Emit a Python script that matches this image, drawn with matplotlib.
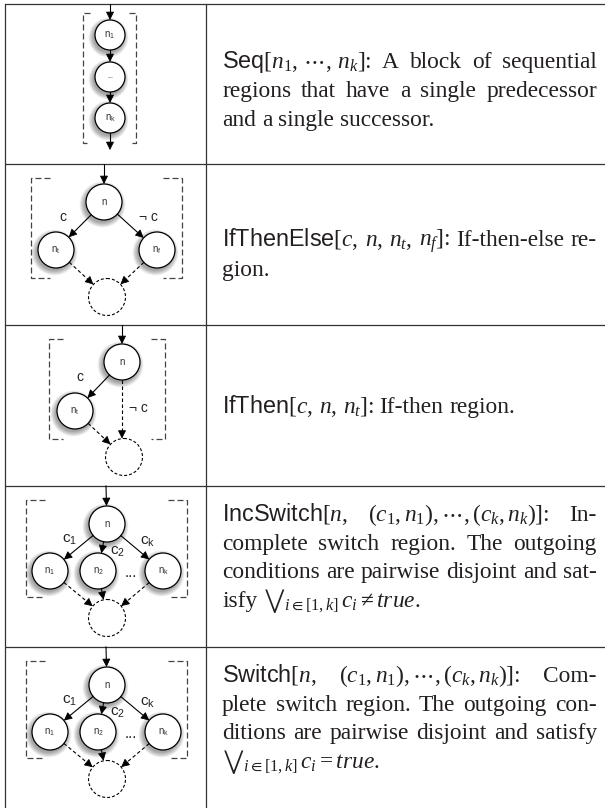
import matplotlib
matplotlib.use("Agg")
import matplotlib.pyplot as plt
from matplotlib.patches import Circle, FancyArrowPatch
import numpy as np

plt.rcParams['mathtext.fontset'] = 'custom'
plt.rcParams['mathtext.rm'] = 'Liberation Serif'
plt.rcParams['mathtext.it'] = 'Liberation Serif:italic'
plt.rcParams['mathtext.sf'] = 'Liberation Sans'
plt.rcParams['mathtext.fallback'] = 'stix'

# right column: one list of (already broken) lines per table row
seq_text = [r"$\mathsf{Seq}[n_1,\,\cdots,\,n_k]$: A block of sequential",
            "regions that have a single predecessor",
            "and a single successor."]
ite_text = [r"$\mathsf{IfThenElse}[c,$ $n,$ $n_t,$ $n_f]$: If-then-else re-",
            "gion."]
it_text = [r"$\mathsf{IfThen}[c,$ $n,$ $n_t]$: If-then region."]
inc_text = [r"$\mathsf{IncSwitch}[n,$ $(c_1,n_1),\cdots,(c_k,n_k)]$: In-",
            "complete switch region. The outgoing",
            "conditions are pairwise disjoint and sat-",
            r"isfy ${\bigvee}_{i\in[1,k]}\,c_i\neq\mathit{true}$."]
sw_text = [r"$\mathsf{Switch}[n,$ $(c_1,n_1),\cdots,(c_k,n_k)]$: Com-",
           "plete switch region. The outgoing con-",
           "ditions are pairwise disjoint and satisfy",
           r"${\bigvee}_{i\in[1,k]}\,c_i=\mathit{true}$."]

# left column: node and edge labels of each region diagram
seq_nodes = [r"$\mathsf{n}_\mathsf{1}$", "...", r"$\mathsf{n}_\mathsf{k}$"]
ite_nodes = [r"$\mathsf{n}$", r"$\mathsf{n}_\mathsf{t}$", r"$\mathsf{n}_\mathsf{f}$"]
ite_edges = ["c", "\u00ac c"]
it_nodes = [r"$\mathsf{n}$", r"$\mathsf{n}_\mathsf{t}$"]
it_edges = ["c", "\u00ac c"]
sw_nodes = [r"$\mathsf{n}$", r"$\mathsf{n}_\mathsf{1}$", r"$\mathsf{n}_\mathsf{2}$",
            r"$\mathsf{n}_\mathsf{k}$"]
sw_edges = [r"$\mathsf{c}_\mathsf{1}$", r"$\mathsf{c}_\mathsf{2}$", r"$\mathsf{c}_\mathsf{k}$"]

row_tops = [4, 164, 325, 486, 647]

TXT = '#231f20'
LINE = '#333333'
FS = 16.8
PX = 72 / 100  # points per pixel

fig = plt.figure(figsize=(6.05, 8.08), dpi=100)
ax = fig.add_axes([0, 0, 1, 1])
ax.set_xlim(0, 605)
ax.set_ylim(808, 0)
ax.axis('off')

# table rules
for y in row_tops:
    ax.plot([5, 605], [y, y], color=LINE, lw=0.9, solid_capstyle='butt')
ax.plot([5, 5], [row_tops[0], 808], color=LINE, lw=0.9)
ax.plot([206, 206], [row_tops[0], 808], color=LINE, lw=0.9)


def node(x, y, label, r=18, fs=7):
    for k in range(8):
        ax.add_patch(Circle((x - 1.5, y + 2.5), r + 0.7 * k, color='black',
                            alpha=0.05, lw=0, zorder=2))
    ax.add_patch(Circle((x, y), r, facecolor='white', edgecolor='black', lw=0.9, zorder=3))
    ax.text(x, y, label, fontsize=fs, family='Liberation Sans', color='#333333',
            ha='center', va='center', zorder=4)


def ghost(x, y, r=18.5):
    ax.add_patch(Circle((x, y), r, facecolor='none', edgecolor='black', lw=0.8,
                        linestyle=(0, (3 * PX / 0.8, 2 * PX / 0.8)), zorder=3))


def arrow(p, q, dashed=False, rp=0, rq=0):
    p = np.array(p, float)
    q = np.array(q, float)
    u = (q - p) / np.hypot(*(q - p))
    a = p + u * rp
    b = q - u * rq
    ls = (0, (3.5 * PX / 0.8, 2.5 * PX / 0.8)) if dashed else '-'
    m = b - u * 5
    ax.plot([a[0], m[0]], [a[1], m[1]], color='black', lw=0.8, linestyle=ls, zorder=3)
    ax.add_patch(FancyArrowPatch(tuple(b - u * 6), tuple(b),
                                 arrowstyle='-|>,head_length=0.5,head_width=0.25',
                                 mutation_scale=10, color='black', lw=0.6,
                                 shrinkA=0, shrinkB=0, zorder=4))


def bracket(x0, x1, y0, y1, arm):
    ls = (0, (6 * PX / 0.9, 3 * PX / 0.9))
    ax.plot([x0 + arm, x0, x0, x0 + arm], [y0, y0, y1, y1], color='#444444',
            lw=0.9, linestyle=ls, zorder=1)
    ax.plot([x1 - arm, x1, x1, x1 - arm], [y0, y0, y1, y1], color='#444444',
            lw=0.9, linestyle=ls, zorder=1)


def edge_label(x, y, s, fs=10):
    ax.text(x, y, s, fontsize=fs, family='Liberation Sans', color='#222222',
            ha='center', va='center', zorder=4)


# --- Seq
t = row_tops[0]
cx = 110
ys = [t + 31, t + 73, t + 114]
arrow((cx, t), (cx, ys[0]), rq=15)
for y, lab in zip(ys, seq_nodes):
    node(cx, y, lab, r=15, fs=7 if lab != "..." else 5)
arrow((cx, ys[0]), (cx, ys[1]), rp=15, rq=15)
arrow((cx, ys[1]), (cx, ys[2]), rp=15, rq=15)
arrow((cx, ys[2]), (cx, t + 146), rp=15)
bracket(83, 136, t + 9, t + 139, 7)

# --- IfThenElse
t = row_tops[1]
n, nt, nf, g = (104, t + 38), (56, t + 86), (157, t + 86), (107, t + 133)
arrow((104, t), n, rq=18)
node(*n, ite_nodes[0])
node(*nt, ite_nodes[1])
node(*nf, ite_nodes[2])
ghost(*g)
arrow(n, nt, rp=18, rq=18)
arrow(n, nf, rp=18, rq=18)
arrow(nt, g, dashed=True, rp=18, rq=18.5)
arrow(nf, g, dashed=True, rp=18, rq=18.5)
edge_label(63, t + 53, ite_edges[0])
edge_label(148, t + 53, ite_edges[1])
bracket(31, 182, t + 14, t + 114, 19)

# --- IfThen
t = row_tops[2]
n, nt, g = (122, t + 37), (75, t + 86), (124, t + 132)
arrow((122, t), n, rq=18)
node(*n, it_nodes[0])
node(*nt, it_nodes[1])
ghost(*g)
arrow(n, nt, rp=18, rq=18)
arrow(n, (122, g[1] - 18.4), dashed=True, rp=18)
arrow(nt, g, dashed=True, rp=18, rq=18.5)
edge_label(80, t + 52, it_edges[0])
edge_label(138, t + 83, it_edges[1])
bracket(49, 165, t + 14, t + 114, 14)

# --- IncSwitch / Switch
for t in row_tops[3:]:
    n = (107, t + 38)
    kids = [(50, t + 85), (98, t + 85), (163, t + 85)]
    g = (107, t + 132)
    arrow((106, t), n, rq=18)
    node(*n, sw_nodes[0])
    for k, lab in zip(kids, sw_nodes[1:]):
        node(*k, lab)
        arrow(n, k, rp=18, rq=18)
        arrow(k, g, dashed=True, rp=18, rq=18.5)
    ghost(*g)
    edge_label(70, t + 54, sw_edges[0], fs=11)
    edge_label(118, t + 66, sw_edges[1], fs=11)
    edge_label(148, t + 56, sw_edges[2], fs=11)
    ax.text(131, t + 87, "...", fontsize=11, family='Liberation Sans', color='#222222',
            ha='center', va='center')
    bracket(26, 187, t + 14, t + 111, 19)

# --- justified text column
X0, X1 = 222, 597
renderer = fig.canvas.get_renderer()
space = 0.25 * FS / PX


def tokens(line):
    out, cur, math = [], '', False
    for ch in line:
        if ch == '$':
            math = not math
        if ch == ' ' and not math:
            out.append(cur)
            cur = ''
        else:
            cur += ch
    out.append(cur)
    return out


def paragraph(lines, baselines):
    for i, (line, yb) in enumerate(zip(lines, baselines)):
        words = tokens(line)
        objs = [ax.text(0, yb, w, fontsize=FS, family='Liberation Serif', color=TXT,
                        ha='left', va='baseline') for w in words]
        widths = [o.get_window_extent(renderer).width for o in objs]
        last = i == len(lines) - 1
        if last or len(words) == 1:
            gap = space
        else:
            gap = (X1 - X0 - sum(widths)) / (len(words) - 1)
        x = X0
        for o, w in zip(objs, widths):
            o.set_x(x)
            x += w + gap


paragraph(seq_text, [68, 97, 126])
paragraph(ite_text, [246, 276])
paragraph(it_text, [413])
paragraph(inc_text, [521, 550, 578, 607])
paragraph(sw_text, [682, 711, 739, 768])

fig.savefig('out.png', dpi=100)
